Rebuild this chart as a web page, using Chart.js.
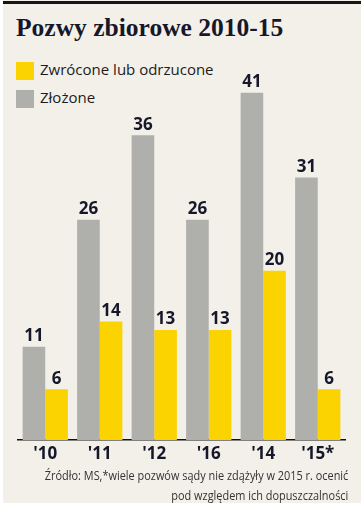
<!DOCTYPE html>
<html>
<head>
<meta charset="utf-8">
<script src="https://cdn.jsdelivr.net/npm/chart.js@4"></script>
<style>
    body { margin: 0; background: #fff; }
    #wrap { position: relative; width: 361px; height: 507px; overflow: hidden; }
    #bg { position: absolute; left: 3px; top: 0; width: 358px; height: 503px; background: #f3f0ea; }
    #topline { position: absolute; left: 3px; top: 1px; width: 358px; height: 3px; background: #161616; }
    #title { position: absolute; left: 16px; top: 13px; font: bold 25.5px "Liberation Serif", serif; color: #16182a; white-space: nowrap; }
    .leg { position: absolute; left: 16px; font: 15px "Open Sans", sans-serif; color: #1c1c1c; white-space: nowrap; }
    .leg span { display: inline-block; width: 18px; height: 18px; vertical-align: middle; margin-right: 6px; }
    #note { position: absolute; right: 13px; top: 465px; font: 13px "Open Sans", sans-serif; color: #333; text-align: right; line-height: 20px; white-space: nowrap; transform: scaleX(0.84); transform-origin: right top; }
    canvas { position: absolute; left: 0; top: 0; }
</style>
</head>
<body>
<div id="wrap">
    <div id="bg"></div>
    <div id="topline"></div>
    <div id="title">Pozwy zbiorowe 2010-15</div>
    <div class="leg" style="top:59px"><span style="background:#fbd300"></span>Zwrócone lub odrzucone</div>
    <div class="leg" style="top:87px"><span style="background:#afafab"></span>Złożone</div>
    <canvas id="barChart" width="361" height="507"></canvas>
    <div id="note">Źródło: MS,*wiele pozwów sądy nie zdążyły w 2015 r. ocenić<br>pod względem ich dopuszczalności</div>
</div>
<script>
const years = ["'10", "'11", "'12", "'16", "'14", "'15*"];
const zlozone = [11, 26, 36, 26, 41, 31];
const zwrocone = [6, 14, 13, 13, 20, 6];

const valueLabels = {
    id: 'valueLabels',
    afterDatasetsDraw: function (chart) {
        const ctx = chart.ctx;
        ctx.save();
        ctx.font = 'bold 17px "Open Sans", sans-serif';
        ctx.fillStyle = '#16182a';
        ctx.textAlign = 'center';
        ctx.textBaseline = 'bottom';
        chart.data.datasets.forEach(function (ds, i) {
            chart.getDatasetMeta(i).data.forEach(function (bar, j) {
                ctx.fillText(ds.data[j], bar.x, bar.y - 2);
            });
        });
        ctx.restore();
    }
};

const ctx = document.getElementById('barChart');
new Chart(ctx, {
    type: 'bar',
    data: {
        labels: years,
        datasets: [{
            label: 'Złożone',
            data: zlozone,
            backgroundColor: '#afafab'
        }, {
            label: 'Zwrócone lub odrzucone',
            data: zwrocone,
            backgroundColor: '#fbd300'
        }]
    },
    options: {
        responsive: false,
        animation: false,
        categoryPercentage: 0.83,
        barPercentage: 1.0,
        layout: { padding: { left: 18, right: 16, top: 59, bottom: 0 } },
        plugins: {
            legend: { display: false },
            tooltip: { enabled: false }
        },
        scales: {
            x: {
                grid: { display: false, drawTicks: false },
                border: { display: true, color: '#111', width: 1.5 },
                ticks: {
                    color: '#16182a',
                    font: { family: 'Open Sans', weight: 'bold', size: 17 },
                    padding: 4
                },
                afterFit: function (axis) { axis.height = 67; }
            },
            y: {
                display: false,
                beginAtZero: true,
                max: 45
            }
        }
    },
    plugins: [valueLabels]
});
</script>
</body>
</html>
